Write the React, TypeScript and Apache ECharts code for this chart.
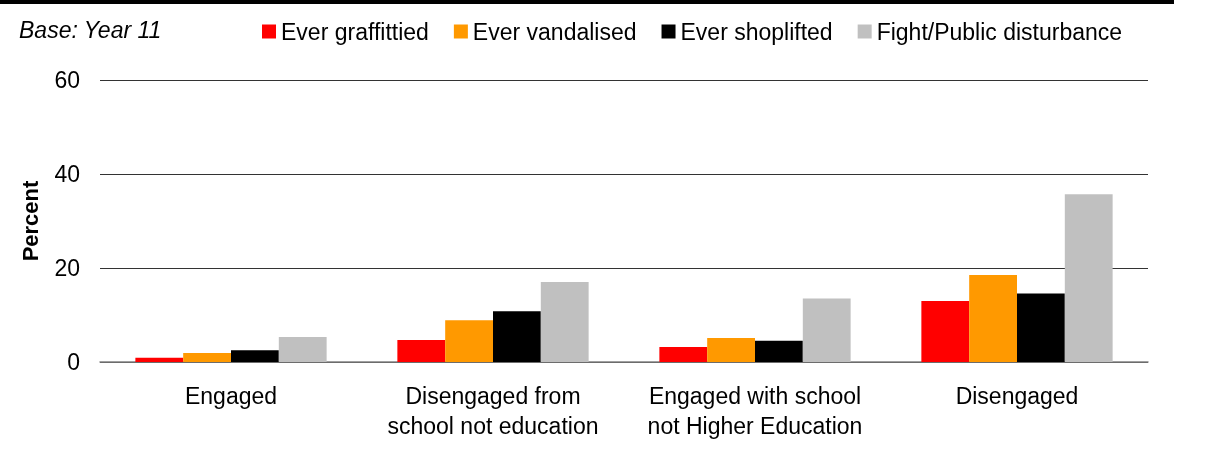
import React, { useEffect, useRef } from "react";
import * as echarts from "echarts";

const categories = [
  "Engaged",
  "Disengaged from\nschool not education",
  "Engaged with school\nnot Higher Education",
  "Disengaged",
];
const seriesNames = ["Ever graffittied", "Ever vandalised", "Ever shoplifted", "Fight/Public disturbance"];
const graffitied = [0.9, 4.7, 3.2, 13.0];
const vandalised = [1.9, 8.9, 5.1, 18.5];
const shoplifted = [2.5, 10.8, 4.5, 14.6];
const fight = [5.3, 17.0, 13.5, 35.7];
const colors = ["#FF0000", "#FF9900", "#000000", "#C0C0C0"];
const yTicks = [0, 20, 40, 60];

export default function App() {
  const ref = useRef<HTMLDivElement>(null);
  useEffect(() => {
    if (!ref.current) return;
    const chart = echarts.init(ref.current, null, { renderer: "svg" });
    const font = "Liberation Sans, Arial, sans-serif";
    const data = [graffitied, vandalised, shoplifted, fight];
    chart.setOption({
      animation: false,
      textStyle: { fontFamily: font },
      grid: { left: 100, right: 65, top: 80, bottom: 104 },
      graphic: [
        { type: "rect", shape: { x: 0, y: 0, width: 1174, height: 4 }, style: { fill: "#000" } },
        {
          type: "text",
          x: 19,
          y: 30,
          style: {
            text: "Base: Year 11",
            font: `italic 23px ${font}`,
            fill: "#000",
            textVerticalAlign: "middle",
          },
        },
      ],
      legend: {
        left: 257,
        top: 15,
        itemWidth: 14,
        itemHeight: 14,
        itemGap: 25,
        icon: "rect",
        textStyle: { fontSize: 23, color: "#000", fontFamily: font },
        data: seriesNames,
      },
      xAxis: {
        type: "category",
        data: categories,
        axisTick: { show: false },
        axisLine: { lineStyle: { color: "#808080", width: 1.5 } },
        axisLabel: { color: "#000", fontSize: 23, lineHeight: 30, margin: 19, interval: 0, fontFamily: font },
      },
      yAxis: {
        type: "value",
        min: yTicks[0],
        max: yTicks[yTicks.length - 1],
        interval: 20,
        name: "Percent",
        nameLocation: "middle",
        nameRotate: 90,
        nameGap: 59,
        nameTextStyle: { fontSize: 22, fontWeight: "bold", color: "#000", fontFamily: font },
        axisLine: { show: false },
        axisTick: { show: false },
        axisLabel: { color: "#000", fontSize: 23, margin: 20, fontFamily: font },
        splitLine: { lineStyle: { color: "#333", width: 1 } },
      },
      series: seriesNames.map((name, i) => ({
        name,
        type: "bar",
        data: data[i],
        barGap: "0%",
        barCategoryGap: "27%",
        itemStyle: { color: colors[i] },
      })),
    });
    return () => chart.dispose();
  }, []);
  return <div ref={ref} style={{ position: "fixed", left: 0, top: 0, width: 1213, height: 466 }} />;
}
